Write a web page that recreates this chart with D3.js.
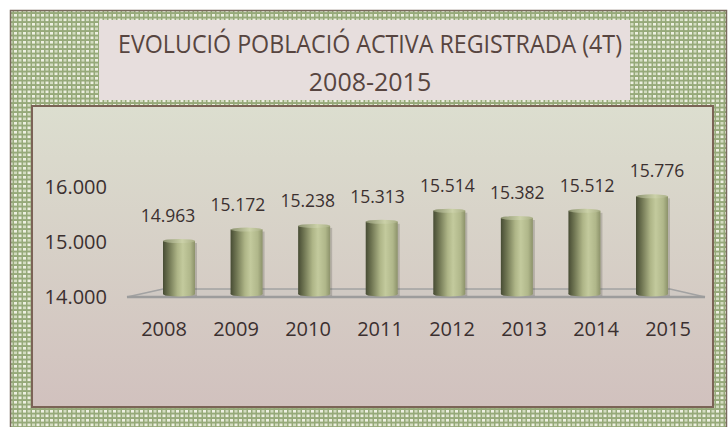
<!DOCTYPE html>
<html lang="ca">
<head>
  <meta charset="UTF-8">
  <title>Evolució població activa registrada</title>
  <script src="https://d3js.org/d3.v7.min.js"></script>
  <style>
    body {
      margin: 0;
      padding: 0;
      background-color: #fff;
    }
    svg text {
      font-family: "Open Sans", "Noto Sans", sans-serif;
      fill: #3b3030;
    }
  </style>
</head>
<body>
  <div id="chart"></div>

  <script>
    // dades
    const years = ["2008", "2009", "2010", "2011", "2012", "2013", "2014", "2015"];
    const values = [14963, 15172, 15238, 15313, 15514, 15382, 15512, 15776];
    const valueLabels = ["14.963", "15.172", "15.238", "15.313", "15.514", "15.382", "15.512", "15.776"];
    const tickValues = [14000, 15000, 16000];
    const tickLabels = ["14.000", "15.000", "16.000"];
    const titleLines = ["EVOLUCIÓ POBLACIÓ ACTIVA REGISTRADA (4T)", "2008-2015"];

    const W = 728, H = 427;

    const svg = d3.select("#chart").append("svg")
      .attr("width", W)
      .attr("height", H);

    const defs = svg.append("defs");

    // trama de fons (verd amb quadrets clars)
    const pat = defs.append("pattern")
      .attr("id", "weave")
      .attr("width", 9)
      .attr("height", 9)
      .attr("patternUnits", "userSpaceOnUse");
    pat.append("rect").attr("width", 9).attr("height", 9).attr("fill", "#96a979");
    [[0.5, 0.5, "#eef0e2"], [5, 0.5, "#d3dcc0"], [0.5, 5, "#d3dcc0"], [5, 5, "#eef0e2"]]
      .forEach(s => pat.append("rect")
        .attr("x", s[0]).attr("y", s[1])
        .attr("width", 3).attr("height", 2.6)
        .attr("fill", s[2]));

    const panelGrad = defs.append("linearGradient")
      .attr("id", "panelGrad")
      .attr("x1", 0).attr("y1", 0).attr("x2", 0).attr("y2", 1);
    panelGrad.append("stop").attr("offset", "0%").attr("stop-color", "#dcdecf");
    panelGrad.append("stop").attr("offset", "100%").attr("stop-color", "#d1c1be");

    const barGrad = defs.append("linearGradient")
      .attr("id", "barGrad")
      .attr("x1", 0).attr("y1", 0).attr("x2", 1).attr("y2", 0);
    [["0%", "#474c34"], ["18%", "#6f7552"], ["45%", "#aeb587"], ["62%", "#c3ca9d"], ["85%", "#b0b78a"], ["100%", "#8c926a"]]
      .forEach(s => barGrad.append("stop").attr("offset", s[0]).attr("stop-color", s[1]));

    const topGrad = defs.append("linearGradient")
      .attr("id", "topGrad")
      .attr("x1", 0).attr("y1", 0).attr("x2", 1).attr("y2", 0);
    topGrad.append("stop").attr("offset", "0%").attr("stop-color", "#8c9270");
    topGrad.append("stop").attr("offset", "60%").attr("stop-color", "#cbd1a8");
    topGrad.append("stop").attr("offset", "100%").attr("stop-color", "#a9af86");

    // marc exterior
    svg.append("rect")
      .attr("x", 10.5).attr("y", 10.5)
      .attr("width", 716).attr("height", 430)
      .attr("fill", "url(#weave)")
      .attr("stroke", "#7a6a5e")
      .attr("stroke-width", 1.5);

    // caixa del títol
    svg.append("rect")
      .attr("x", 99).attr("y", 20)
      .attr("width", 531).attr("height", 80)
      .attr("fill", "#e7dedd");

    svg.append("text")
      .attr("x", 370).attr("y", 53)
      .attr("text-anchor", "middle")
      .attr("font-size", 25)
      .attr("textLength", 504)
      .attr("lengthAdjust", "spacingAndGlyphs")
      .style("fill", "#574540")
      .text(titleLines[0]);

    svg.append("text")
      .attr("x", 370).attr("y", 91)
      .attr("text-anchor", "middle")
      .attr("font-size", 25)
      .style("fill", "#574540")
      .text(titleLines[1]);

    // àrea del gràfic
    svg.append("rect")
      .attr("x", 32).attr("y", 106)
      .attr("width", 681).attr("height", 301)
      .attr("fill", "url(#panelGrad)")
      .attr("stroke", "#7b6356")
      .attr("stroke-width", 2);

    // escales
    const y = d3.scaleLinear().domain([14000, 16000]).range([294, 184]);
    const xBar = d3.scalePoint().domain(years).range([179, 652]);
    const xCat = d3.scalePoint().domain(years).range([164, 668]);
    const xVal = d3.scalePoint().domain(years).range([168, 657]);
    const barW = 32;

    // eix Y (etiquetes)
    svg.append("g")
      .selectAll("text")
      .data(tickValues)
      .join("text")
      .attr("x", 107)
      .attr("y", d => y(d) + 3)
      .attr("dy", "0.35em")
      .attr("text-anchor", "end")
      .attr("font-size", 20)
      .text((d, i) => tickLabels[i]);

    // terra 3D
    const x0 = xBar(years[0]), x1 = xBar(years[years.length - 1]);
    const yb = y(14000);
    svg.append("path")
      .attr("d", `M${x0 - 52},${yb + 3} L${x1 + 53},${yb + 3} L${x1 + 18},${yb - 5} L${x0 - 16},${yb - 5} Z`)
      .attr("fill", "rgba(190,190,190,0.25)")
      .attr("stroke", "#a2a2a2")
      .attr("stroke-width", 1.5);
    svg.append("line")
      .attr("x1", x0 - 52).attr("x2", x1 + 53)
      .attr("y1", yb + 3).attr("y2", yb + 3)
      .attr("stroke", "#9c9c9c")
      .attr("stroke-width", 2.5);

    // cilindres
    const bars = svg.append("g")
      .selectAll("g")
      .data(values)
      .join("g")
      .attr("transform", (d, i) => `translate(${xBar(years[i]) - barW / 2},0)`);

    bars.append("rect")
      .attr("x", 2).attr("y", d => y(d) + 2)
      .attr("width", barW).attr("height", d => yb - y(d))
      .attr("fill", "rgba(80,80,70,0.25)");

    bars.append("ellipse")
      .attr("cx", barW / 2).attr("cy", yb)
      .attr("rx", barW / 2).attr("ry", 2.5)
      .attr("fill", "url(#barGrad)");

    bars.append("rect")
      .attr("x", 0).attr("y", d => y(d))
      .attr("width", barW).attr("height", d => yb - y(d))
      .attr("fill", "url(#barGrad)");

    bars.append("ellipse")
      .attr("cx", barW / 2).attr("cy", d => y(d))
      .attr("rx", barW / 2).attr("ry", 2)
      .attr("fill", "url(#topGrad)");

    // etiquetes de valor
    svg.append("g")
      .selectAll("text")
      .data(values)
      .join("text")
      .attr("x", (d, i) => xVal(years[i]))
      .attr("y", d => y(d) - 25)
      .attr("dy", "0.35em")
      .attr("text-anchor", "middle")
      .attr("font-size", 17.5)
      .text((d, i) => valueLabels[i]);

    // etiquetes d'anys
    svg.append("g")
      .selectAll("text")
      .data(years)
      .join("text")
      .attr("x", d => xCat(d))
      .attr("y", 329)
      .attr("dy", "0.35em")
      .attr("text-anchor", "middle")
      .attr("font-size", 20)
      .text(d => d);
  </script>
</body>
</html>
